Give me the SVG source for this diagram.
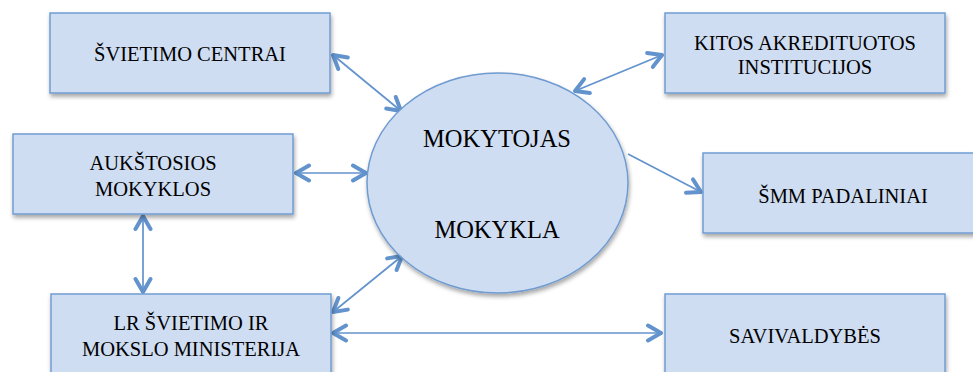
<svg xmlns="http://www.w3.org/2000/svg" width="973" height="372" viewBox="0 0 973 372">
<style>
.box{fill:#cfddf2;stroke:#709dd2;stroke-width:1.5;filter:url(#sh)}
.ell{fill:#cfddf2;stroke:#6f9bd0;stroke-width:1.5;filter:url(#sh)}
.t{font-family:'Liberation Serif',serif;font-size:20.5px;fill:#000;text-anchor:middle}
.te{font-family:'Liberation Serif',serif;font-size:24.5px;fill:#000;text-anchor:middle}
.c{stroke:#6393cd;stroke-width:1.7;fill:none}
</style>
<defs>
<filter id="sh" x="-10%" y="-10%" width="125%" height="130%">
<feDropShadow dx="1" dy="3" stdDeviation="2" flood-color="#000" flood-opacity="0.35"/>
</filter>
<marker id="ah" viewBox="0 0 20 20" refX="16" refY="10" markerWidth="20" markerHeight="20" markerUnits="userSpaceOnUse" orient="auto-start-reverse">
<path d="M3,2.5 L16,10 L3,17.5" fill="none" stroke="#6393cd" stroke-width="4" stroke-linecap="round" stroke-linejoin="round"/>
</marker>
</defs>
<g id="connectors">
<line class="c" x1="333" y1="55" x2="401" y2="111" marker-start="url(#ah)" marker-end="url(#ah)"/>
<line class="c" x1="662" y1="55" x2="575" y2="91" marker-start="url(#ah)" marker-end="url(#ah)"/>
<line class="c" x1="628" y1="154" x2="701" y2="192" marker-end="url(#ah)"/>
<line class="c" x1="296" y1="173" x2="366" y2="173" marker-start="url(#ah)" marker-end="url(#ah)"/>
<line class="c" x1="143" y1="216" x2="143" y2="292" marker-start="url(#ah)" marker-end="url(#ah)"/>
<line class="c" x1="402" y1="256" x2="333" y2="312" marker-start="url(#ah)" marker-end="url(#ah)"/>
<line class="c" x1="333" y1="333" x2="661" y2="333" marker-start="url(#ah)" marker-end="url(#ah)"/>
</g>
<g id="svietimo-centrai">
<rect class="box" x="50" y="13" width="280" height="80"/>
<text class="t" x="190" y="61">ŠVIETIMO CENTRAI</text>
</g>
<g id="kitos">
<rect class="box" x="665" y="13" width="280" height="80"/>
<text class="t" x="805" y="50">KITOS AKREDITUOTOS</text>
<text class="t" x="805" y="74">INSTITUCIJOS</text>
</g>
<g id="aukstosios">
<rect class="box" x="13" y="134" width="280" height="80"/>
<text class="t" x="153" y="170">AUKŠTOSIOS</text>
<text class="t" x="153" y="196">MOKYKLOS</text>
</g>
<g id="mokytojas">
<ellipse class="ell" cx="497.5" cy="183" rx="130.5" ry="110"/>
<text class="te" x="497" y="147">MOKYTOJAS</text>
<text class="te" x="497" y="238">MOKYKLA</text>
</g>
<g id="smm">
<rect class="box" x="703" y="153" width="280" height="80"/>
<text class="t" x="843" y="203">ŠMM PADALINIAI</text>
</g>
<g id="lr">
<rect class="box" x="51" y="294" width="280" height="90"/>
<text class="t" x="191" y="330">LR ŠVIETIMO IR</text>
<text class="t" x="191" y="356">MOKSLO MINISTERIJA</text>
</g>
<g id="savivaldybes">
<rect class="box" x="665" y="294" width="280" height="90"/>
<text class="t" x="805" y="343">SAVIVALDYBĖS</text>
</g>
</svg>
